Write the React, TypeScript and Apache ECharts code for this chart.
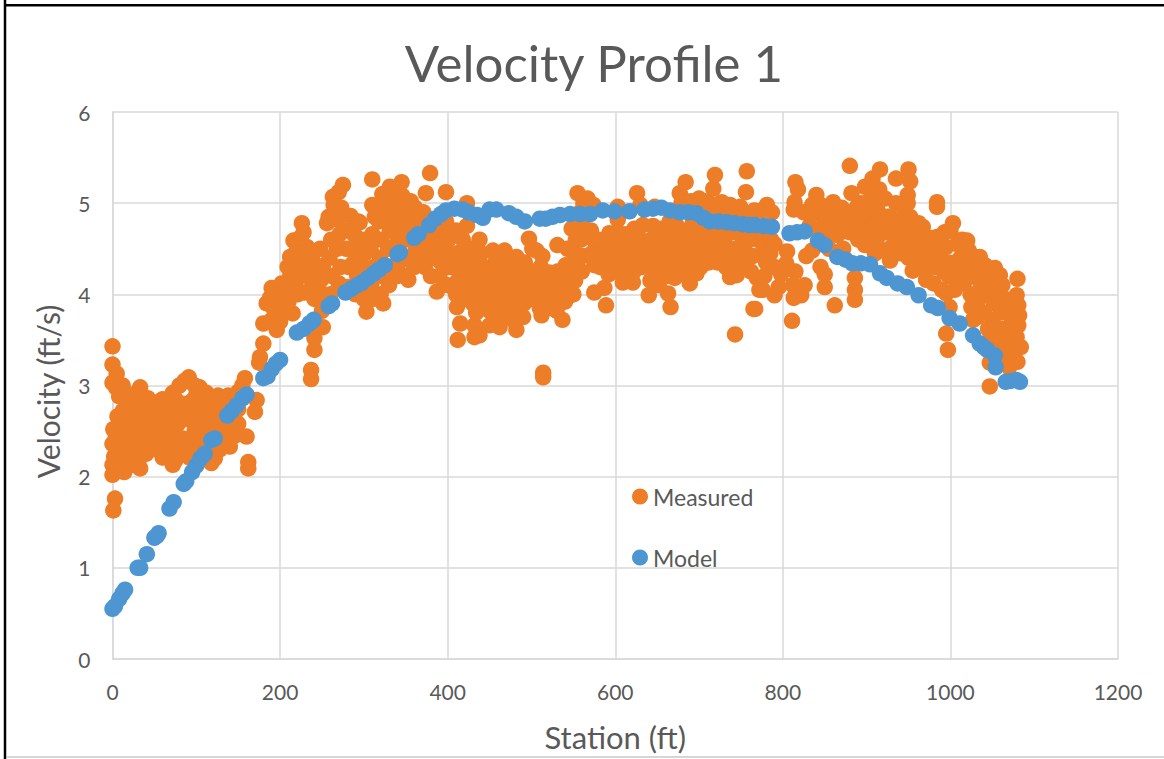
import React, { useEffect, useRef } from "react";
import * as echarts from "echarts";

const xTicks = [0, 200, 400, 600, 800, 1000, 1200];
const yTicks = [0, 1, 2, 3, 4, 5, 6];

const measuredLeft = [
  [0,3.43],[0,3.23],[5,3.13],[0,3.03],[4,2.98],[9,2.95],[12,3.0],[15,2.88],[33,2.98],[30,2.9],[91,3.09],[80,3.0],[86,3.05],[104,2.98],[98,3.0],[112,2.92],[126,2.89],[138,2.89],[132,2.86],[158,3.08],[155,3.0],[150,2.93],[172,2.84],[170,2.71],[160,2.44],[162,2.16],[162,2.09],[140,2.33],[72,2.13],[33,2.09],[0,2.02],[0,2.13],[3,1.76],[1,1.63],
  [18,2.78],[28,2.8],[38,2.76],[48,2.82],[58,2.79],[66,2.74],[75,2.85],[84,2.8],[95,2.83],[106,2.78],[118,2.75],[128,2.8],[142,2.78],[150,2.74],
  [6,2.66],[14,2.62],[24,2.68],[34,2.64],[44,2.7],[54,2.63],[64,2.66],[80,2.68],[90,2.63],[100,2.66],[110,2.62],[120,2.68],[130,2.65],[140,2.6],[150,2.58],
  [1,2.52],[10,2.48],[20,2.54],[30,2.5],[40,2.46],[50,2.52],[60,2.47],[70,2.5],[98,2.5],[108,2.47],[118,2.52],[128,2.46],[138,2.48],[146,2.45],
  [0,2.36],[8,2.33],[18,2.38],[28,2.32],[38,2.36],[48,2.34],[58,2.38],[68,2.32],[78,2.35],[92,2.36],[106,2.33],[116,2.36],[128,2.3],[136,2.38],
  [2,2.22],[12,2.18],[22,2.24],[32,2.2],[40,2.25],[52,2.3],[60,2.21],[70,2.22],[75,2.18],[82,2.25],[92,2.21],[122,2.2],[118,2.15],
  [12,2.72],[22,2.6],[33,2.57],[45,2.58],[57,2.56],[68,2.6],[78,2.58],[88,2.72],[72,2.42],[84,2.42],[96,2.42],[110,2.55],[122,2.6],[14,2.42],[26,2.42],[44,2.42],[8,2.58],[4,2.44],[10,2.28],[24,2.3],[36,2.28],[62,2.3],[88,2.3],[100,2.26],[112,2.28],[125,2.38],[135,2.55],[145,2.66],[100,2.9],[118,2.84],[60,2.85],[42,2.86],[72,2.92],
  [10,2.1],[20,2.12],[14,2.05],[8,2.88],[20,2.9],
];

const measuredRise = [
  [180,3.46],[176,3.31],[175,3.25],[180,3.68],[184,3.9],[190,4.07],[202,4.12],[212,4.41],[216,4.59],[226,4.78],[232,4.52],[256,4.78],[263,5.07],[275,5.2],[270,5.12],[310,5.26],[331,5.18],[345,5.23],[310,4.98],[295,4.79],[379,5.33],[374,5.11],[398,5.12],[423,5.0],
  [196,3.61],[215,3.79],[251,3.64],[241,3.52],[241,3.39],[237,3.17],[237,3.07],[303,3.81],[323,3.9],[353,4.16],[387,4.03],[373,4.3],
  [190,3.72],[192,3.85],[188,3.96],[200,3.7],[203,3.86],[199,4.0],[210,3.92],[208,4.06],[212,4.2],[209,4.3],
  [221,4.0],[219,4.15],[222,4.3],[218,4.45],[224,4.62],[229,4.02],[232,4.2],[230,4.36],[228,4.68],
  [241,3.95],[239,4.1],[242,4.26],[238,4.4],[250,3.82],[252,4.0],[249,4.16],[251,4.31],[248,4.5],
  [260,4.0],[262,4.2],[259,4.4],[261,4.6],[258,4.85],[264,4.98],[270,4.12],[272,4.3],[268,4.5],[271,4.66],[269,4.82],[273,4.95],
  [280,4.08],[282,4.3],[279,4.5],[281,4.7],[284,4.86],[290,4.0],[292,4.2],[288,4.35],[291,4.5],[289,4.65],[293,4.8],
  [300,3.95],[302,4.1],[299,4.3],[301,4.45],[298,4.6],[311,3.95],[309,4.12],[312,4.3],[308,4.5],[310,4.66],[313,4.85],
  [320,4.0],[322,4.2],[319,4.4],[321,4.6],[318,4.8],[323,4.95],[322,5.1],[330,4.1],[332,4.3],[329,4.5],[331,4.7],[328,4.9],[333,5.05],
  [340,4.2],[342,4.35],[339,4.55],[341,4.75],[338,4.95],[343,5.1],[350,4.2],[352,4.4],[349,4.6],[351,4.8],[348,5.0],
  [360,4.3],[362,4.5],[359,4.75],[361,4.95],[370,4.33],[372,4.45],[369,4.7],[371,4.9],
  [380,4.2],[382,4.4],[379,4.6],[381,4.75],[390,4.2],[392,4.35],[389,4.5],[391,4.7],[393,4.85],[400,4.1],[402,4.3],[399,4.45],[401,4.6],[398,4.8],
  [326,5.02],[336,5.12],[346,5.08],[356,5.02],[352,4.9],[364,4.85],[375,4.55],[385,4.55],[335,4.82],[345,4.65],[355,4.7],[365,4.4],
];

const measuredMid1 = [
  [411,3.86],[415,3.68],[412,3.5],[432,3.53],[432,3.66],[434,3.8],[450,3.66],[462,3.64],[438,3.55],[482,3.61],[490,3.75],[512,3.77],[537,3.72],[514,3.14],[514,3.09],[546,3.99],
  [438,4.6],[454,4.48],[468,4.48],[482,4.41],[497,4.61],[506,4.48],[531,4.54],[555,5.11],[567,5.05],[555,4.74],
  [410,4.0],[412,4.15],[408,4.3],[411,4.45],[410,4.7],[420,3.95],[422,4.1],[419,4.28],[421,4.42],[418,4.6],[423,4.75],
  [430,3.9],[432,4.05],[429,4.2],[431,4.35],[428,4.5],[441,3.85],[443,4.0],[439,4.15],[442,4.3],[440,4.45],
  [450,3.82],[452,3.98],[449,4.14],[451,4.3],[461,3.8],[459,3.95],[462,4.1],[460,4.25],[458,4.4],
  [470,3.75],[472,3.9],[469,4.05],[471,4.2],[468,4.36],[480,3.7],[482,3.85],[479,4.0],[481,4.15],[478,4.3],
  [491,3.9],[493,4.05],[489,4.2],[492,4.35],[500,3.95],[502,4.1],[499,4.25],[501,4.5],
  [510,3.85],[512,4.0],[509,4.15],[511,4.3],[513,4.42],[520,3.85],[522,4.0],[519,4.12],[521,4.24],
  [530,3.82],[532,3.96],[529,4.1],[531,4.25],[540,3.92],[542,4.05],[539,4.2],[541,4.32],[543,4.5],
  [550,4.0],[552,4.15],[549,4.3],[551,4.45],[553,4.6],[558,4.9],[562,5.0],[560,4.25],[561,4.42],[559,4.6],[563,4.72],
  [565,4.9],[574,4.98],[548,4.72],
];

const measuredMid2 = [
  [575,4.02],[589,3.88],[587,4.07],[609,4.13],[621,4.13],[575,4.32],[640,3.99],[666,3.86],[663,4.01],[689,4.12],[697,4.23],[671,4.18],[737,4.19],[745,4.21],[725,4.46],[743,3.56],[765,3.84],[772,4.05],[769,4.18],
  [593,4.67],[626,5.11],[603,4.96],[603,4.82],[647,4.96],[677,5.11],[684,5.23],[719,5.31],[717,5.16],[727,5.01],[757,5.35],[756,5.12],[749,4.96],[712,5.0],[679,5.0],[630,4.98],[571,4.7],
  [572,4.45],[574,4.6],[582,4.3],[584,4.45],[580,4.6],[592,4.22],[594,4.36],[590,4.5],
  [602,4.25],[604,4.4],[600,4.55],[603,4.68],[612,4.2],[614,4.35],[610,4.5],[613,4.66],
  [622,4.25],[624,4.4],[620,4.55],[623,4.72],[632,4.3],[634,4.45],[630,4.6],[633,4.76],
  [642,4.15],[644,4.3],[640,4.45],[643,4.6],[645,4.75],[652,4.1],[654,4.25],[650,4.4],[653,4.55],[655,4.72],
  [662,4.2],[664,4.35],[660,4.5],[663,4.65],[665,4.8],[672,4.3],[674,4.45],[670,4.6],[673,4.76],
  [682,4.25],[684,4.4],[680,4.55],[683,4.7],[692,4.35],[694,4.5],[690,4.65],[693,4.8],
  [702,4.3],[704,4.45],[700,4.6],[703,4.75],[712,4.35],[714,4.5],[710,4.65],[713,4.85],
  [722,4.35],[724,4.55],[720,4.7],[723,4.88],[732,4.3],[734,4.45],[730,4.6],[733,4.75],[735,4.92],
  [742,4.35],[744,4.5],[740,4.68],[743,4.85],[752,4.35],[754,4.5],[750,4.65],[753,4.85],
  [762,4.25],[764,4.42],[760,4.6],[775,4.05],[778,4.2],[780,4.35],[777,4.5],[781,4.65],[772,4.72],
  [690,5.02],[700,5.05],[707,5.02],[737,4.98],[766,4.92],[775,4.92],[770,4.6],[786,4.6],
];

const measuredRight = [
  [811,3.71],[767,3.84],[862,3.88],[886,3.94],[886,4.05],[886,4.18],[850,4.08],[850,4.22],[790,3.99],[822,3.99],[813,3.96],[776,4.05],[804,4.34],[805,4.47],[898,4.54],[928,4.37],[955,4.26],[971,4.16],[995,4.01],[999,3.86],[997,3.39],[995,3.57],
  [880,5.41],[916,5.37],[950,5.37],[952,5.24],[935,5.27],[907,5.27],[898,5.18],[882,5.11],[949,5.09],[949,5.0],[984,5.01],[984,4.96],[815,5.23],[818,5.15],[814,5.01],[813,4.93],[840,5.09],[860,5.01],[781,4.98],[787,4.9],[967,4.74],[984,4.63],
  [795,4.08],[798,4.22],[790,4.3],[785,4.45],[790,4.55],[812,4.1],[815,4.25],[826,4.1],[828,4.42],[835,4.48],[838,4.9],[832,4.75],[845,4.3],[842,4.7],[848,4.85],[855,4.5],[857,4.65],[853,4.82],[865,4.65],[868,4.8],[863,4.93],[872,4.5],[875,4.7],[878,4.88],[885,4.75],[890,4.6],[893,5.0],[897,4.72],[902,4.85],[905,5.05],[910,4.45],[912,4.6],[908,4.75],[913,4.92],[915,5.15],[920,4.48],[923,4.68],[925,4.85],[922,5.05],[930,4.52],[933,4.68],[928,4.85],[935,5.0],[940,4.45],[942,4.6],[938,4.75],[945,4.9],[950,4.4],[953,4.55],[948,4.72],[952,4.85],[960,4.32],[963,4.48],[958,4.62],[962,4.78],[970,4.28],[973,4.42],[968,4.6],[980,4.12],[982,4.3],[978,4.48],[985,4.5],[990,4.05],[992,4.25],[988,4.4],[998,4.2],[997,4.35],[995,4.52],
  [825,4.9],[835,4.98],[845,4.98],[855,4.95],[870,4.95],[858,4.78],[880,4.68],[895,4.88],[905,4.7],[918,4.78],[888,4.95],[900,5.0],[993,4.68],[975,4.62],
];

const measuredEnd = [
  [1003,4.78],[1000,4.7],[1020,4.59],[1035,4.41],[1053,4.29],[1059,4.21],[1080,4.17],[1079,3.99],[1081,3.88],[1082,3.77],[1081,3.66],[1079,3.53],[1084,3.42],[1080,3.26],[1047,2.99],[1047,3.25],[1025,3.86],[1027,3.72],[1015,4.21],
  [1005,4.05],[1003,4.2],[1006,4.35],[1008,4.55],[1012,4.4],[1014,4.6],[1018,4.32],[1016,4.12],[1024,4.0],[1026,4.2],[1028,4.38],[1032,3.75],[1034,3.95],[1036,4.12],[1033,4.28],[1040,3.8],[1042,4.0],[1044,4.18],[1041,4.32],[1048,3.55],[1050,3.72],[1052,3.9],[1049,4.1],[1056,3.45],[1058,3.62],[1060,3.8],[1057,3.98],[1062,4.1],[1064,3.3],[1066,3.45],[1063,3.62],[1067,3.8],[1065,3.95],[1070,3.2],[1072,3.35],[1069,3.5],[1073,3.68],[1071,3.85],[1076,3.42],[1075,3.58],[1077,3.72],[1075,3.88],
  [1022,4.48],[1012,4.25],[1045,3.62],[1054,3.55],
];

const measured = [...measuredLeft, ...measuredRise, ...measuredMid1, ...measuredMid2, ...measuredRight, ...measuredEnd];

const modelX = [0,3,8,12,15,30,33,41,50,53,55,68,73,85,88,95,100,105,110,118,122,137,142,148,155,160,180,185,190,195,200,220,228,235,240,258,262,278,285,292,298,305,312,318,325,340,343,360,365,378,385,392,398,408,418,425,435,442,450,458,473,482,492,510,517,525,534,546,558,570,585,599,617,635,645,655,665,677,687,697,705,713,723,733,742,752,760,767,777,787,808,817,826,842,850,865,875,883,893,904,916,924,937,948,962,977,985,999,1011,1027,1035,1040,1044,1053,1054,1066,1072,1079,1083];
const modelY = [0.55,0.58,0.66,0.72,0.76,1.0,1.0,1.15,1.33,1.35,1.38,1.65,1.72,1.92,1.95,2.05,2.12,2.2,2.25,2.4,2.42,2.67,2.72,2.78,2.86,2.9,3.08,3.1,3.18,3.24,3.28,3.58,3.62,3.68,3.72,3.87,3.9,4.02,4.06,4.1,4.13,4.18,4.23,4.27,4.32,4.44,4.46,4.62,4.66,4.76,4.83,4.88,4.92,4.94,4.93,4.9,4.87,4.84,4.93,4.93,4.89,4.85,4.8,4.83,4.83,4.85,4.87,4.88,4.88,4.88,4.92,4.91,4.91,4.93,4.94,4.95,4.92,4.9,4.9,4.89,4.84,4.8,4.8,4.79,4.78,4.77,4.76,4.76,4.75,4.74,4.67,4.68,4.69,4.59,4.54,4.41,4.38,4.34,4.34,4.33,4.23,4.18,4.12,4.08,3.99,3.88,3.85,3.74,3.68,3.55,3.46,3.42,3.39,3.33,3.2,3.04,3.05,3.06,3.04];
const model = modelX.map((x, i) => [x, modelY[i]]);

const FONT = "Lato";
const TEXT = "#595959";

export default function App() {
  const ref = useRef<HTMLDivElement>(null);
  useEffect(() => {
    document.body.style.margin = "0";
    const chart = echarts.init(ref.current!, null, { renderer: "svg" });
    chart.setOption({
      animation: false,
      backgroundColor: "#ffffff",
      textStyle: { fontFamily: FONT },
      title: {
        text: "Velocity Profile 1",
        left: 589,
        top: 32,
        textAlign: "center",
        textStyle: { fontFamily: FONT, fontSize: 51, fontWeight: 400, color: TEXT },
      },
      grid: { left: 112.5, right: 46, top: 112, bottom: 100 },
      legend: {
        orient: "vertical",
        left: 627,
        top: 480,
        itemGap: 38,
        itemWidth: 16,
        itemHeight: 16,
        data: [{ name: "Measured", icon: "circle" }, { name: "Model", icon: "circle" }],
        textStyle: { fontFamily: FONT, fontSize: 23, color: TEXT },
      },
      xAxis: {
        type: "value",
        min: xTicks[0],
        max: xTicks[xTicks.length - 1],
        interval: 200,
        name: "Station (ft)",
        nameLocation: "middle",
        nameGap: 62,
        nameTextStyle: { fontFamily: FONT, fontSize: 31, color: TEXT },
        axisLine: { show: true, lineStyle: { color: "#d9d9d9", width: 1.5 } },
        axisTick: { show: false },
        axisLabel: { fontFamily: FONT, fontSize: 21, color: TEXT, margin: 22, formatter: (v: number) => String(v) },
        splitLine: { show: true, lineStyle: { color: "#d9d9d9", width: 1.5 } },
      },
      yAxis: {
        type: "value",
        min: yTicks[0],
        max: yTicks[yTicks.length - 1],
        interval: 1,
        name: "Velocity (ft/s)",
        nameLocation: "middle",
        nameGap: 50,
        nameTextStyle: { fontFamily: FONT, fontSize: 30, color: TEXT, padding: [0, 12, 0, 0] },
        axisLine: { show: true, lineStyle: { color: "#d9d9d9", width: 1.5 } },
        axisTick: { show: false },
        axisLabel: { fontFamily: FONT, fontSize: 21, color: TEXT, margin: 22 },
        splitLine: { show: true, lineStyle: { color: "#d9d9d9", width: 1.5 } },
      },
      series: [
        { name: "Measured", type: "scatter", symbolSize: 16.5, data: measured, itemStyle: { color: "#ed7d27", opacity: 1 }, z: 2 },
        { name: "Model", type: "scatter", symbolSize: 16.5, data: model, itemStyle: { color: "#4e96d1", opacity: 1 }, z: 3 },
      ],
      graphic: [
        { type: "line", shape: { x1: 5, y1: 0, x2: 5, y2: 759 }, style: { stroke: "#000000", lineWidth: 2.5 }, silent: true, z: 10 },
        { type: "line", shape: { x1: 4, y1: 5.3, x2: 1164, y2: 5.3 }, style: { stroke: "#000000", lineWidth: 2.5 }, silent: true, z: 10 },
        { type: "line", shape: { x1: 6, y1: 757, x2: 1164, y2: 757 }, style: { stroke: "#c8c8c8", lineWidth: 1.5 }, silent: true, z: 10 },
      ],
    });
    return () => chart.dispose();
  }, []);
  return <div ref={ref} style={{ width: 1164, height: 759 }} />;
}
